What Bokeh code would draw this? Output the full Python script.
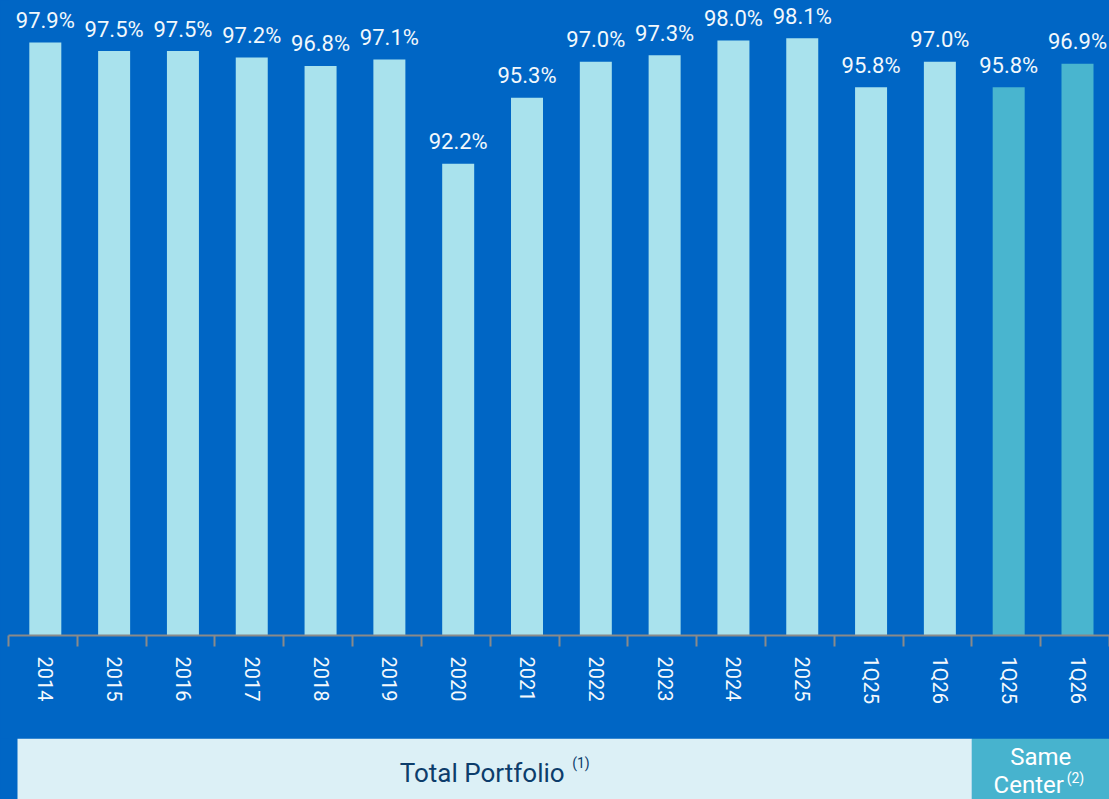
import math
from bokeh.plotting import figure
from bokeh.layouts import column
from bokeh.models import FixedTicker, Range1d, ColumnDataSource, LinearAxis
from bokeh.core.properties import value
from bokeh.embed import file_html
from bokeh.resources import INLINE

# ---- data ----
categories = ["2014", "2015", "2016", "2017", "2018", "2019", "2020", "2021",
              "2022", "2023", "2024", "2025", "1Q25", "1Q26", "1Q25", "1Q26"]
occupancy = [97.9, 97.5, 97.5, 97.2, 96.8, 97.1, 92.2, 95.3,
             97.0, 97.3, 98.0, 98.1, 95.8, 97.0, 95.8, 96.9]
series = ["Total Portfolio"] * 14 + ["Same Center"] * 2
group_names = ["Total Portfolio", "Same Center"]
group_notes = ["(1)", "(2)"]

BG = "#0066c5"
LIGHT = "#a9e2ed"
DARK = "#49b5cf"
FONT = "Roboto"
TXT_SHIFT = -9   # baseline correction for svg text
EDGE = 0.535     # distance from a category centre to its left boundary

n = len(categories)
xs = list(range(n))
colors = [LIGHT if s == "Total Portfolio" else DARK for s in series]
labels = [f"{v:.1f}%" for v in occupancy]

src = ColumnDataSource(dict(x=xs, top=occupancy, color=colors, label=labels))

p = figure(width=1109, height=738, output_backend="svg", toolbar_location=None,
           x_range=Range1d(-EDGE, n - EDGE), y_range=Range1d(70, 99.88),
           min_border_left=8, min_border_right=0, min_border_top=0,
           min_border_bottom=103, x_axis_location=None, y_axis_location=None)
p.background_fill_color = BG
p.border_fill_color = BG
p.outline_line_color = None
p.xgrid.visible = False
p.ygrid.visible = False

p.vbar(x="x", top="top", bottom=70, width=0.465, color="color",
       line_color=None, source=src)
p.text(x="x", y="top", text="label", source=src, text_align="center",
       text_baseline="alphabetic", y_offset=-13 + TXT_SHIFT, text_color="#f2f8fc",
       text_font=value(FONT), text_font_size="22px")

ax = LinearAxis(ticker=FixedTicker(ticks=xs, minor_ticks=[i - EDGE for i in range(n + 1)]))
ax.major_label_overrides = {i: c for i, c in enumerate(categories)}
ax.major_label_orientation = -math.pi / 2
ax.major_label_standoff = 10
ax.major_label_text_font = FONT
ax.major_label_text_font_size = "20px"
ax.major_label_text_color = "#f4f9fd"
ax.axis_line_color = "#8a8a8a"
ax.axis_line_width = 2
ax.major_tick_line_color = None
ax.major_tick_out = 0
ax.major_tick_in = 0
ax.minor_tick_line_color = "#8a8a8a"
ax.minor_tick_line_width = 2
ax.minor_tick_out = 11
ax.minor_tick_in = 0
p.add_layout(ax, "below")

# ---- group boxes ----
BOX_INSET = 9 / 68.81  # left margin of the first group box, in category widths
g_start = [-EDGE, 14 - EDGE]
g_end = [14 - EDGE, n - EDGE]
g_fill = ["#dcf0f6", "#47b3ce"]
g_mid = [(a + b) / 2 for a, b in zip(g_start, g_end)]
g_left = [g_start[0] + BOX_INSET] + g_start[1:]

b = figure(width=1109, height=61, output_backend="svg", toolbar_location=None,
           x_range=Range1d(-EDGE, n - EDGE), y_range=Range1d(0, 1),
           min_border_left=8, min_border_right=0, min_border_top=0,
           min_border_bottom=0, x_axis_location=None, y_axis_location=None)
b.background_fill_color = BG
b.border_fill_color = BG
b.outline_line_color = None
b.xgrid.visible = False
b.ygrid.visible = False
b.quad(left=g_left, right=g_end, bottom=0, top=1, fill_color=g_fill, line_color=None)

# Total Portfolio
b.text(x=[g_mid[0]], y=[0.5], text=[group_names[0]], text_align="center",
       text_baseline="alphabetic", x_offset=-8, y_offset=12.5 + TXT_SHIFT, text_color="#0d3d6b",
       text_font=value(FONT), text_font_size="26px")
b.text(x=[g_mid[0]], y=[0.5], text=[group_notes[0]], text_align="left",
       text_baseline="alphabetic", x_offset=82, y_offset=3 + TXT_SHIFT, text_color="#0d3d6b",
       text_font=value(FONT), text_font_size="14px")
# Same Center
words = group_names[1].split(" ")
b.text(x=[g_mid[1]], y=[0.5], text=[words[0]], text_align="center",
       text_baseline="alphabetic", x_offset=0, y_offset=-3.5 + TXT_SHIFT, text_color="#ffffff",
       text_font=value(FONT), text_font_size="24px")
b.text(x=[g_mid[1]], y=[0.5], text=[words[1]], text_align="center",
       text_baseline="alphabetic", x_offset=-12, y_offset=24.5 + TXT_SHIFT, text_color="#ffffff",
       text_font=value(FONT), text_font_size="24px")
b.text(x=[g_mid[1]], y=[0.5], text=[group_notes[1]], text_align="left",
       text_baseline="alphabetic", x_offset=26, y_offset=17.5 + TXT_SHIFT, text_color="#ffffff",
       text_font=value(FONT), text_font_size="14px")

layout = column(p, b, spacing=0, styles={"background-color": BG})
open("out.html", "w").write(file_html(layout, INLINE))
